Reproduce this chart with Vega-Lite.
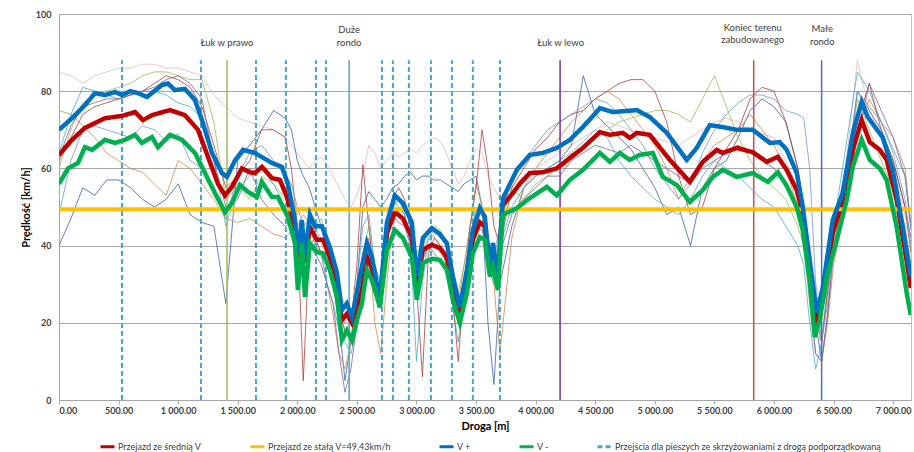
{
  "$schema": "https://vega.github.io/schema/vega-lite/v6.json",
  "width": 852,
  "height": 386,
  "autosize": {"type": "none"},
  "padding": {"left": 59, "top": 14, "right": 3, "bottom": 52},
  "background": "white",
  "config": {
    "font": "Lato",
    "view": {"stroke": "#bfbfbf", "strokeWidth": 1},
    "axis": {"labelFont": "Lato", "titleFont": "Lato", "labelColor": "#404040", "titleColor": "#000000", "domainColor": "#a6a6a6", "tickColor": "#a6a6a6"},
    "legend": {
      "orient": "none", "legendX": 40, "legendY": 424, "direction": "horizontal", "title": null,
      "labelFont": "Lato", "labelFontSize": 9, "labelColor": "#404040", "labelLimit": 500,
      "symbolType": "stroke", "symbolSize": 196, "symbolStrokeWidth": 3,
      "columnPadding": 42, "labelOffset": 2, "padding": 0
    }
  },
  "datasets": {
    "thin": [
      {"run": "r1", "x": [0,100,200,300,400,500,600,700,800,900,1000,1100,1200,1300,1400,1500,1600,1700,1800,1900,1950,2000,2050,2100,2150,2200,2250,2300,2350,2400,2450,2500,2550,2600,2650,2700,2750,2800,2850,2900,2950,3000,3050,3100,3150,3200,3250,3300,3350,3400,3450,3500,3550,3600,3650,3700,3800,3900,4000,4100,4200,4300,4400,4500,4600,4700,4800,4900,5000,5100,5200,5300,5400,5500,5600,5700,5800,5900,6000,6100,6200,6250,6300,6350,6400,6450,6500,6600,6700,6800,6900,7000,7100,7150],
       "y": [85,84,82,84,85,86,86,87,87,86,86,85,84,79,76,73,72,71,70,68,66,64,62,60,62,63,61,58,55,52,50,53,58,66,64,60,62,64,63,64,65,64,66,67,68,67,64,60,56,58,62,65,64,58,55,52,55,58,60,62,64,66,68,70,72,71,70,69,68,67,66,68,70,72,73,72,70,69,68,62,54,48,40,30,26,35,45,60,88,75,68,60,48,40]},
      {"run": "r2", "x": [0,100,200,300,400,500,600,700,800,900,1000,1100,1200,1300,1400,1500,1600,1700,1800,1900,1950,2000,2050,2100,2150,2200,2250,2300,2350,2400,2450,2500,2550,2600,2650,2700,2750,2800,2850,2900,2950,3000,3050,3100,3150,3200,3250,3300,3350,3400,3450,3500,3550,3600,3650,3700,3800,3900,4000,4100,4200,4300,4400,4500,4600,4700,4800,4900,5000,5100,5200,5300,5400,5500,5600,5700,5800,5900,6000,6100,6200,6250,6300,6350,6400,6450,6500,6600,6700,6800,6900,7000,7100,7150],
       "y": [40,47,55,53,57,57,55,52,50,52,56,48,46,45,25,62,66,70,75,73,70,62,58,55,50,45,38,30,20,5,15,30,50,54,52,50,52,55,56,58,59,57,58,58,57,57,56,55,54,56,57,58,50,20,4,30,45,55,58,60,62,66,84,74,71,68,65,60,55,48,50,40,55,60,62,68,75,78,76,72,60,50,35,20,10,22,40,55,80,75,70,62,50,42]},
      {"run": "r3", "x": [0,100,200,300,400,500,600,700,800,900,1000,1100,1200,1300,1400,1500,1600,1700,1800,1900,1950,2000,2050,2100,2150,2200,2250,2300,2350,2400,2450,2500,2550,2600,2650,2700,2750,2800,2850,2900,2950,3000,3050,3100,3150,3200,3250,3300,3350,3400,3450,3500,3550,3600,3650,3700,3800,3900,4000,4100,4200,4300,4400,4500,4600,4700,4800,4900,5000,5100,5200,5300,5400,5500,5600,5700,5800,5900,6000,6100,6200,6250,6300,6350,6400,6450,6500,6600,6700,6800,6900,7000,7100,7150],
       "y": [75,74,71,68,64,62,60,59,56,53,62,60,56,52,47,46,47,45,43,42,44,45,48,46,42,38,30,22,12,8,15,28,38,42,20,12,30,45,50,48,42,35,40,44,42,40,38,30,25,35,45,56,50,35,30,12,42,55,60,64,68,72,75,78,80,78,74,70,66,60,52,58,62,66,68,70,74,70,66,60,50,40,25,12,10,20,35,50,70,78,72,68,60,45]},
      {"run": "r4", "x": [0,100,200,300,400,500,600,700,800,900,1000,1100,1200,1300,1400,1500,1600,1700,1800,1900,1950,2000,2050,2100,2150,2200,2250,2300,2350,2400,2450,2500,2550,2600,2650,2700,2750,2800,2850,2900,2950,3000,3050,3100,3150,3200,3250,3300,3350,3400,3450,3500,3550,3600,3650,3700,3800,3900,4000,4100,4200,4300,4400,4500,4600,4700,4800,4900,5000,5100,5200,5300,5400,5500,5600,5700,5800,5900,6000,6100,6200,6250,6300,6350,6400,6450,6500,6600,6700,6800,6900,7000,7100,7150],
       "y": [64,74,81,80,79,78,79,80,80,79,77,76,73,62,45,55,58,60,56,50,48,42,38,45,40,38,30,25,18,15,12,18,30,40,28,25,45,52,50,48,40,10,30,42,40,38,36,25,15,25,40,48,46,35,30,40,50,55,58,60,62,64,67,70,68,62,58,55,52,50,48,52,58,62,60,58,55,52,50,45,40,35,20,8,15,30,45,65,85,80,72,65,58,45]},
      {"run": "r5", "x": [0,100,200,300,400,500,600,700,800,900,1000,1100,1200,1300,1400,1500,1600,1700,1800,1900,1950,2000,2050,2100,2150,2200,2250,2300,2350,2400,2450,2500,2550,2600,2650,2700,2750,2800,2850,2900,2950,3000,3050,3100,3150,3200,3250,3300,3350,3400,3450,3500,3550,3600,3650,3700,3800,3900,4000,4100,4200,4300,4400,4500,4600,4700,4800,4900,5000,5100,5200,5300,5400,5500,5600,5700,5800,5900,6000,6100,6200,6250,6300,6350,6400,6450,6500,6600,6700,6800,6900,7000,7100,7150],
       "y": [60,70,77,79,80,81,82,84,85,85,84,83,83,72,52,55,52,58,56,52,52,48,50,48,45,47,42,35,25,18,20,28,38,45,35,30,40,50,52,50,45,38,40,44,45,44,40,35,28,35,45,50,48,40,38,45,55,52,56,58,60,62,65,68,70,72,73,74,75,75,74,72,78,84,76,68,62,58,55,52,45,40,30,18,15,28,40,55,78,70,62,55,45,35]},
      {"run": "r6", "x": [0,100,200,300,400,500,600,700,800,900,1000,1100,1200,1300,1400,1500,1600,1700,1800,1900,1950,2000,2050,2100,2150,2200,2250,2300,2350,2400,2450,2500,2550,2600,2650,2700,2750,2800,2850,2900,2950,3000,3050,3100,3150,3200,3250,3300,3350,3400,3450,3500,3550,3600,3650,3700,3800,3900,4000,4100,4200,4300,4400,4500,4600,4700,4800,4900,5000,5100,5200,5300,5400,5500,5600,5700,5800,5900,6000,6100,6200,6250,6300,6350,6400,6450,6500,6600,6700,6800,6900,7000,7100,7150],
       "y": [62,68,74,76,77,78,79,80,82,84,83,81,76,66,55,58,62,70,70,68,60,45,5,40,42,38,35,30,22,18,20,35,61,45,30,25,40,52,55,52,45,30,6,38,42,40,35,28,10,30,45,55,70,60,45,40,55,60,65,68,72,74,75,78,80,82,83,83,80,72,58,48,50,60,65,70,78,81,80,72,60,50,38,22,15,28,42,58,72,82,70,62,50,38]},
      {"run": "r7", "x": [0,100,200,300,400,500,600,700,800,900,1000,1100,1200,1300,1400,1500,1600,1700,1800,1900,1950,2000,2050,2100,2150,2200,2250,2300,2350,2400,2450,2500,2550,2600,2650,2700,2750,2800,2850,2900,2950,3000,3050,3100,3150,3200,3250,3300,3350,3400,3450,3500,3550,3600,3650,3700,3800,3900,4000,4100,4200,4300,4400,4500,4600,4700,4800,4900,5000,5100,5200,5300,5400,5500,5600,5700,5800,5900,6000,6100,6200,6250,6300,6350,6400,6450,6500,6600,6700,6800,6900,7000,7100,7150],
       "y": [63,71,76,77,78,78,79,80,81,83,84,82,78,62,50,52,60,52,48,45,46,42,38,40,38,35,30,25,12,2,8,20,32,38,30,28,40,48,46,45,40,32,36,40,38,36,34,28,20,26,38,45,44,38,34,38,48,52,55,58,58,62,64,66,65,64,66,64,62,60,58,56,60,62,64,66,64,62,60,56,48,42,28,12,10,22,38,52,68,82,75,68,58,44]},
      {"run": "r8", "x": [0,100,200,300,400,500,600,700,800,900,1000,1100,1200,1300,1400,1500,1600,1700,1800,1900,1950,2000,2050,2100,2150,2200,2250,2300,2350,2400,2450,2500,2550,2600,2650,2700,2750,2800,2850,2900,2950,3000,3050,3100,3150,3200,3250,3300,3350,3400,3450,3500,3550,3600,3650,3700,3800,3900,4000,4100,4200,4300,4400,4500,4600,4700,4800,4900,5000,5100,5200,5300,5400,5500,5600,5700,5800,5900,6000,6100,6200,6250,6300,6350,6400,6450,6500,6600,6700,6800,6900,7000,7100,7150],
       "y": [48,62,70,71,70,69,68,71,70,67,69,62,60,55,47,58,64,66,62,58,56,50,45,47,44,42,38,32,25,20,22,30,45,48,35,30,44,50,52,48,42,30,38,42,44,42,40,33,22,30,42,50,48,40,35,45,58,62,66,70,72,74,76,78,77,74,70,66,60,56,52,56,64,70,74,77,79,79,78,75,74,73,60,30,15,25,42,58,80,76,72,64,52,40]}
    ],
    "main": [
      {"s": "Przejazd ze średnią V",
       "x": [0,109,218,386,529,638,705,780,931,1057,1166,1250,1334,1393,1451,1535,1600,1644,1703,1787,1854,1913,1980,2005,2038,2064,2106,2164,2215,2273,2332,2374,2416,2458,2483,2542,2584,2626,2668,2693,2752,2819,2886,2961,3003,3054,3129,3196,3255,3305,3364,3423,3473,3532,3574,3616,3641,3683,3725,3809,3867,3951,4060,4178,4287,4396,4539,4623,4732,4790,4849,4958,5126,5294,5403,5520,5570,5688,5822,5940,6032,6107,6191,6242,6300,6359,6409,6493,6577,6661,6736,6804,6888,6946,7030,7114,7148],
       "y": [63.5,67.4,70.5,73,73.6,74.6,72.5,73.8,75.1,73.8,70,63,56,53,55.2,60,59,58.8,60.4,57.5,57,52.6,44,35.5,44,35.5,44.8,41.5,41.5,37,30.3,20.7,22.3,20,22.3,28.5,37,34,28.5,26,43.3,48.7,47,42.2,30.3,38.9,40.2,39.4,37,29.3,22.5,31,41.5,46,45,35.5,37.5,31,50.5,53.6,56,58.8,59,60,62.7,65.3,69.4,68.7,69.2,67.9,69.2,68.7,62.2,56.5,61.7,64.8,64,65.3,64.2,61.7,63,59.6,54.4,48.2,34.5,19,26,43.3,51,64.8,72.5,66.8,64.8,62.2,51.8,36,29]},
      {"s": "V +",
       "x": [0,109,218,302,386,470,529,600,663,738,864,914,973,1057,1141,1200,1284,1367,1409,1476,1544,1644,1787,1871,1921,1980,2005,2038,2064,2106,2148,2206,2273,2332,2374,2416,2458,2483,2525,2584,2626,2668,2693,2752,2819,2886,2961,3003,3054,3129,3196,3255,3305,3364,3423,3473,3532,3574,3616,3641,3683,3725,3842,3951,4060,4178,4287,4396,4539,4648,4849,4958,5101,5268,5352,5461,5570,5688,5822,5965,6049,6107,6191,6242,6300,6359,6409,6493,6577,6661,6736,6787,6913,6997,7081,7148],
       "y": [70,73,76.4,79.5,79,79.8,79,80,79.5,78.5,81.6,82,80.3,80.6,77.7,72.5,64,58.8,57.8,62,64.8,64,61.4,60.4,56,46.6,38,46.6,37,48,45,45,39.6,33,23.3,25,21.5,25,32,40.7,37,30,26.7,46,53,51,46,32,42,44.5,43,40.6,32,24,33.7,44,49.7,47.4,33.7,40.7,32,52.2,59.6,63.5,64,65.3,67.4,70.7,75.6,74.6,75.1,73.3,69.2,62.2,65.3,71.2,70.7,70,70,66.6,66.8,64.8,58.8,50,36,22.5,29,46.6,53.6,69,77.2,73.3,68,59.6,44.8,32]},
      {"s": "V -",
       "x": [0,76,159,218,277,386,470,554,638,696,780,831,931,1032,1141,1225,1309,1393,1451,1518,1586,1661,1703,1787,1837,1921,1980,2005,2038,2064,2106,2164,2215,2273,2332,2374,2416,2458,2500,2542,2584,2626,2668,2693,2752,2819,2886,2961,3003,3054,3129,3196,3255,3305,3364,3423,3473,3532,3574,3616,3641,3683,3725,3809,3842,3951,4094,4178,4287,4396,4539,4623,4706,4790,4874,4983,5067,5185,5294,5403,5487,5570,5688,5822,5948,6032,6107,6191,6242,6300,6342,6384,6443,6527,6611,6661,6736,6804,6888,6946,7030,7114,7148],
       "y": [56,60,61.4,65.5,64.8,67.4,66.6,67.4,68.7,66.6,68.1,65.5,68.7,67.4,64,58.8,53.6,48.7,51,55.7,53.9,52.6,56.5,52.6,52.6,47.4,40.7,28.5,40.7,26.7,40.6,38.3,38,33.7,26.7,15.5,18,15.5,20.7,25,33.7,31,26.7,24,38.9,44,42,37,26,35.5,36.6,36.3,33.7,26,20,27.7,38,42.2,41.5,32,34.5,28.5,48,49.2,49.7,52.3,55.2,53,57,59.6,64,61.7,64,62.2,63.5,64,57.8,55.7,51.3,54.4,57.8,59.6,57.8,58.8,56.5,59,55.5,50,44,31,16.3,20.7,31.9,41.5,51.8,60.4,67.4,62.2,60,57,44.8,27.7,22]}
    ],
    "constant": [{"s": "Przejazd ze stałą V=49,43km/h", "v": 49.43}],
    "cross": [
      {"s": "Przejścia dla pieszych ze skrzyżowaniami z drogą podporządkowaną", "x": 529},
      {"s": "Przejścia dla pieszych ze skrzyżowaniami z drogą podporządkowaną", "x": 1191},
      {"s": "Przejścia dla pieszych ze skrzyżowaniami z drogą podporządkowaną", "x": 1653},
      {"s": "Przejścia dla pieszych ze skrzyżowaniami z drogą podporządkowaną", "x": 1904},
      {"s": "Przejścia dla pieszych ze skrzyżowaniami z drogą podporządkowaną", "x": 2156},
      {"s": "Przejścia dla pieszych ze skrzyżowaniami z drogą podporządkowaną", "x": 2240},
      {"s": "Przejścia dla pieszych ze skrzyżowaniami z drogą podporządkowaną", "x": 2710},
      {"s": "Przejścia dla pieszych ze skrzyżowaniami z drogą podporządkowaną", "x": 2802},
      {"s": "Przejścia dla pieszych ze skrzyżowaniami z drogą podporządkowaną", "x": 2936},
      {"s": "Przejścia dla pieszych ze skrzyżowaniami z drogą podporządkowaną", "x": 3121},
      {"s": "Przejścia dla pieszych ze skrzyżowaniami z drogą podporządkowaną", "x": 3297},
      {"s": "Przejścia dla pieszych ze skrzyżowaniami z drogą podporządkowaną", "x": 3473},
      {"s": "Przejścia dla pieszych ze skrzyżowaniami z drogą podporządkowaną", "x": 3700}
    ],
    "marks": [
      {"n": "Łuk w prawo", "x": 1410},
      {"n": "Duże rondo", "x": 2435},
      {"n": "Łuk w lewo", "x": 4205},
      {"n": "Koniec terenu zabudowanego", "x": 5830},
      {"n": "Małe rondo", "x": 6400}
    ],
    "labels": [
      {"t": "Łuk w prawo", "x": 1410, "y": 92.5},
      {"t": "Duże", "x": 2435, "y": 95.9},
      {"t": "rondo", "x": 2435, "y": 92.6},
      {"t": "Łuk w lewo", "x": 4210, "y": 92.5},
      {"t": "Koniec terenu", "x": 5822, "y": 96.5},
      {"t": "zabudowanego", "x": 5822, "y": 93.2},
      {"t": "Małe", "x": 6405, "y": 96.1},
      {"t": "rondo", "x": 6405, "y": 92.8}
    ]
  },
  "layer": [
    {
      "data": {"name": "thin"},
      "transform": [{"flatten": ["x", "y"]}],
      "mark": {"type": "line", "strokeWidth": 1, "opacity": 0.8, "clip": true},
      "encoding": {
        "x": {"field": "x", "type": "quantitative",
          "scale": {"domain": [0, 7150], "nice": false},
          "axis": {"title": "Droga [m]", "values": [0,500,1000,1500,2000,2500,3000,3500,4000,4500,5000,5500,6000,6500,7000],
            "labelExpr": "replace(format(datum.value, ',.2f'), ',', ' ')",
            "grid": false, "tickSize": 4, "labelFontSize": 9, "labelFontWeight": "bold", "labelPadding": 2,
            "titleFontSize": 11, "titleFontWeight": "bold", "titlePadding": 5}},
        "y": {"field": "y", "type": "quantitative",
          "scale": {"domain": [0, 100], "nice": false},
          "axis": {"title": "Prędkość [km/h]", "values": [0,10,20,30,40,50,60,70,80,90,100],
            "grid": true, "gridColor": "#a6a6a6", "ticks": false, "labelPadding": 8,
            "labelFontSize": 9, "labelFontWeight": "bold", "titleFontSize": 11, "titleFontWeight": "bold", "titlePadding": 4}},
        "stroke": {"field": "run", "type": "nominal",
          "scale": {"domain": ["r1","r2","r3","r4","r5","r6","r7","r8","Łuk w prawo","Duże rondo","Łuk w lewo","Koniec terenu zabudowanego","Małe rondo"],
                    "range": ["#e6b9b8","#3f63a0","#d08a4d","#4bacc6","#9bbb59","#a9423f","#7f60a0","#7199cc","#9bbb59","#4bacc6","#7030a0","#c0504d","#4472c4"]},
          "legend": null}
      }
    },
    {
      "data": {"name": "marks"},
      "mark": {"type": "rule", "strokeWidth": 1.5},
      "encoding": {
        "x": {"field": "x", "type": "quantitative"},
        "y": {"datum": 0},
        "y2": {"datum": 88},
        "stroke": {"field": "n", "type": "nominal", "legend": null}
      }
    },
    {
      "data": {"name": "cross"},
      "mark": {"type": "rule", "strokeWidth": 2},
      "encoding": {
        "x": {"field": "x", "type": "quantitative"},
        "y": {"datum": 0},
        "y2": {"datum": 88},
        "color": {"field": "s", "type": "nominal",
          "scale": {"domain": ["Przejazd ze średnią V","Przejazd ze stałą V=49,43km/h","V +","V -","Przejścia dla pieszych ze skrzyżowaniami z drogą podporządkowaną"],
                    "range": ["#c00000","#ffc000","#0070c0","#00b050","#41a8cc"]}},
        "strokeDash": {"field": "s", "type": "nominal",
          "scale": {"domain": ["Przejazd ze średnią V","Przejazd ze stałą V=49,43km/h","V +","V -","Przejścia dla pieszych ze skrzyżowaniami z drogą podporządkowaną"],
                    "range": [[1,0],[1,0],[1,0],[1,0],[5,3]]}}
      }
    },
    {
      "data": {"name": "main"},
      "transform": [{"filter": "datum.s === 'Przejazd ze średnią V'"}, {"flatten": ["x", "y"]}],
      "mark": {"type": "line", "strokeWidth": 4.5, "clip": true},
      "encoding": {
        "x": {"field": "x", "type": "quantitative"},
        "y": {"field": "y", "type": "quantitative"},
        "color": {"field": "s", "type": "nominal"},
        "strokeDash": {"field": "s", "type": "nominal"}
      }
    },
    {
      "data": {"name": "constant"},
      "mark": {"type": "rule", "strokeWidth": 4},
      "encoding": {
        "y": {"field": "v", "type": "quantitative"},
        "color": {"field": "s", "type": "nominal"},
        "strokeDash": {"field": "s", "type": "nominal"}
      }
    },
    {
      "data": {"name": "main"},
      "transform": [{"filter": "datum.s === 'V +'"}, {"flatten": ["x", "y"]}],
      "mark": {"type": "line", "strokeWidth": 4.5, "clip": true},
      "encoding": {
        "x": {"field": "x", "type": "quantitative"},
        "y": {"field": "y", "type": "quantitative"},
        "color": {"field": "s", "type": "nominal"},
        "strokeDash": {"field": "s", "type": "nominal"}
      }
    },
    {
      "data": {"name": "main"},
      "transform": [{"filter": "datum.s === 'V -'"}, {"flatten": ["x", "y"]}],
      "mark": {"type": "line", "strokeWidth": 4.5, "clip": true},
      "encoding": {
        "x": {"field": "x", "type": "quantitative"},
        "y": {"field": "y", "type": "quantitative"},
        "color": {"field": "s", "type": "nominal"},
        "strokeDash": {"field": "s", "type": "nominal"}
      }
    },
    {
      "data": {"name": "labels"},
      "mark": {"type": "text", "fontSize": 9.5, "color": "#404040", "align": "center", "baseline": "middle"},
      "encoding": {
        "x": {"field": "x", "type": "quantitative"},
        "y": {"field": "y", "type": "quantitative"},
        "text": {"field": "t"}
      }
    }
  ]
}
